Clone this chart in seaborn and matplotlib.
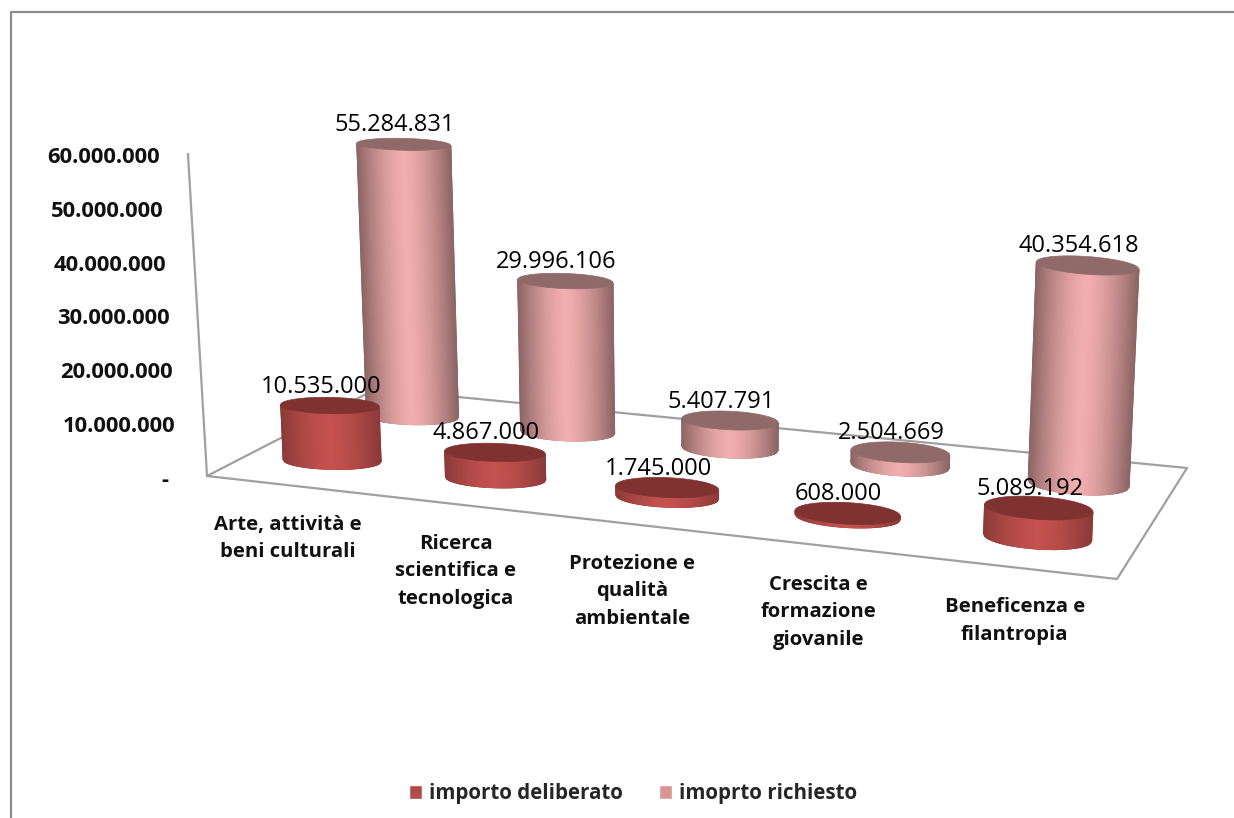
import numpy as np
import pandas as pd
import matplotlib
matplotlib.use("Agg")
import matplotlib.pyplot as plt
import seaborn as sns
from matplotlib.patches import Polygon
from matplotlib.transforms import Affine2D

CATEGORIES = [
    "Arte, attività e\nbeni culturali",
    "Ricerca\nscientifica e\ntecnologica",
    "Protezione e\nqualità\nambientale",
    "Crescita e\nformazione\ngiovanile",
    "Beneficenza e\nfilantropia",
]
SERIES = ["importo deliberato", "imoprto richiesto"]
DELIBERATO = [10535000, 4867000, 1745000, 608000, 5089192]
RICHIESTO = [55284831, 29996106, 5407791, 2504669, 40354618]
TICKS = [0, 10000000, 20000000, 30000000, 40000000, 50000000, 60000000]
TICK_LABELS = ["-", "10.000.000", "20.000.000", "30.000.000", "40.000.000", "50.000.000", "60.000.000"]

W, H = 1234, 818
FONT = "Open Sans"
GREY = "#a0a0a0"

# floor of the fake 3d box in pixels: front left, front right, back right, back left
FLOOR = [(207, 476), (1117, 579), (1187, 468), (376, 389)]
ROW_DEPTH = [0.25, 0.75]
PX_PER_UNIT = 5.35e-6
RADIUS = 50
LEAN = 1.1e-4
VANISH_X = 705
SHADES = [("#7f3230", "#8b3a38", "#c4524f"), ("#906a69", "#8c6564", "#f2aeae")]


def homography(pts):
    (x0, y0), (x1, y1), (x2, y2), (x3, y3) = pts
    sx, sy = x0 - x1 + x2 - x3, y0 - y1 + y2 - y3
    dx1, dx2, dy1, dy2 = x1 - x2, x3 - x2, y1 - y2, y3 - y2
    det = dx1 * dy2 - dx2 * dy1
    g = (sx * dy2 - dx2 * sy) / det
    h = (dx1 * sy - sx * dy1) / det
    return np.array([[x1 - x0 + g * x1, x3 - x0 + h * x3, x0],
                     [y1 - y0 + g * y1, y3 - y0 + h * y3, y0],
                     [g, h, 1.0]])


HOMO = homography(FLOOR)


def floor_xy(u, v):
    x, y, w = HOMO @ np.array([u, v, 1.0])
    return x / w, y / w, w


def ellipse(cx, cy, rx, ry, angle, t):
    a = np.radians(angle)
    ex, ey = rx * np.cos(t), ry * np.sin(t)
    return cx + ex * np.cos(a) - ey * np.sin(a), cy + ex * np.sin(a) + ey * np.cos(a)


def draw_cylinder(over, px, bar, cat, row):
    value = bar.get_height()
    u = (cat + 0.5) / len(CATEGORIES)
    bx, by, w = floor_xy(u, ROW_DEPTH[row])
    height = value * PX_PER_UNIT / w
    # top leans away from the vanishing point
    tx = bx - (VANISH_X - bx) * height * LEAN
    ty = by - height
    t_pos = (bx - 300) / 750
    ratio = 0.175 + 0.04 * t_pos
    ratio_top = ratio - 0.0002 * height
    angle = 1 + 3 * t_pos
    rb = RADIUS / w
    rt = rb * (1 + 8e-5 * height)

    cap, edge, mid = SHADES[row]
    base_z = 3 + (1 - row) * 10 + cat

    # the seaborn bar stays as the core of the cylinder
    bar.set_transform(px)
    bar.set_clip_on(False)
    bar.set_width(1.4 * rb)
    bar.set_x((bx + tx) / 2 - 0.7 * rb)
    bar.set_y(ty)
    bar.set_height(height)
    bar.set_zorder(base_z)

    pos = np.linspace(-1, 1, 61)
    t = np.arccos(pos)
    xt, yt = ellipse(tx, ty, rt, rt * ratio_top, angle, t)
    xb, yb = ellipse(bx, by, rb, rb * ratio, angle, t)

    # soft outline under the shaded mesh
    outline = np.column_stack([np.r_[xt, xb[::-1]], np.r_[yt, yb[::-1]]])
    over.add_patch(Polygon(outline, closed=True, facecolor=edge, edgecolor=edge, linewidth=0.6,
                           transform=px, zorder=base_z + 0.05, clip_on=False))

    # round surface: light in the middle, dark on both sides
    shade = (1 - np.abs(pos) ** 1.5)[:, None]
    c_edge = np.array(matplotlib.colors.to_rgb(edge))
    c_mid = np.array(matplotlib.colors.to_rgb(mid))
    cols = c_edge + (c_mid - c_edge) * shade
    over.pcolormesh(np.vstack([xt, xb]), np.vstack([yt, yb]), np.stack([cols, cols]),
                    shading="gouraud", transform=px, zorder=base_z + 0.1, clip_on=False)

    t2 = np.linspace(0, 2 * np.pi, 120)
    xc, yc = ellipse(tx, ty, rt, rt * ratio_top, angle, t2)
    over.add_patch(Polygon(np.column_stack([xc, yc]), closed=True, facecolor=cap, edgecolor=cap, linewidth=0.5,
                           transform=px, zorder=base_z + 0.2, clip_on=False))

    label = f"{int(value):,}".replace(",", ".")
    over.text(tx - 9, ty - 19, label, transform=px, ha="center", va="center", fontsize=17,
              family=FONT, color="black", zorder=40)


sns.set_theme(style="white")
plt.rcParams["font.family"] = FONT

df = pd.DataFrame({
    "categoria": CATEGORIES * 2,
    "serie": [SERIES[0]] * len(CATEGORIES) + [SERIES[1]] * len(CATEGORIES),
    "importo": DELIBERATO + RICHIESTO,
})

fig = plt.figure(figsize=(W / 100, H / 100), dpi=100)
left = 177
ax = fig.add_axes([left / W, 0, 1 - left / W, 1])
ax.patch.set_alpha(0)
sns.barplot(data=df, x="categoria", y="importo", hue="serie", hue_order=SERIES,
            palette=["#b24c4a", "#d99694"], ax=ax, errorbar=None, saturation=1)

# second layer for the round parts, same size as the figure
over = fig.add_axes([0, 0, 1, 1])
over.set_axis_off()

# pixel space, y pointing down like the picture
px = Affine2D().scale(1, -1).translate(0, H)

# back wall line and floor outline
wall_top = (188, 154)
fl = FLOOR + [FLOOR[0]]
ax.plot(*zip(*fl), color=GREY, lw=1.6, transform=px, zorder=1, clip_on=False)
ax.plot(*zip(wall_top, FLOOR[0]), color=GREY, lw=1.6, transform=px, zorder=1, clip_on=False)

# chart border
ax.plot([11, 11, W], [H, 12, 12], color="#8c8c8c", lw=1.6, transform=px, zorder=1, clip_on=False)

for row in [1, 0]:
    for cat, bar in enumerate(ax.containers[row]):
        draw_cylinder(over, px, bar, cat, row)

# category labels under the front edge of the floor
for i, name in enumerate(CATEGORIES):
    x, y, _ = floor_xy((i + 0.5) / len(CATEGORIES), 0)
    over.text(x, y + 30, name, transform=px, ha="center", va="top", fontsize=14.6,
              fontweight="bold", family=FONT, linespacing=1.48, color="#111111")

per_value = 323 / 60000000
ax.set_xlim(-0.5, 4.5)
ax.set_ylim(-(H - 478) / per_value, 478 / per_value)
ax.set_xlabel("")
ax.set_ylabel("")
ax.set_xticks([])
ax.set_yticks(TICKS)
ax.set_yticklabels(TICK_LABELS)
ax.tick_params(axis="y", length=0, pad=0, labelsize=15.8)
sns.despine(ax=ax, left=True, bottom=True)
for tick, val in zip(ax.yaxis.get_major_ticks(), TICKS):
    wall_x = FLOOR[0][0] + (wall_top[0] - FLOOR[0][0]) * val / TICKS[-1]
    shift = wall_x - 28 - left
    if val == 0:
        shift -= 11
    tick.label1.set_transform(tick.label1.get_transform() + Affine2D().translate(shift, 0))
    tick.label1.set_fontweight("bold")
    tick.label1.set_color("#111111")

sns.move_legend(ax, "center", bbox_to_anchor=(633 / W, 1 - 794 / H), bbox_transform=fig.transFigure,
                ncol=2, frameon=False, title=None, handlelength=0.66, handleheight=0.66,
                handletextpad=0.32, columnspacing=1.75, prop={"family": FONT, "weight": "bold", "size": 14.8})

fig.savefig("out.png", dpi=100, facecolor="white")
